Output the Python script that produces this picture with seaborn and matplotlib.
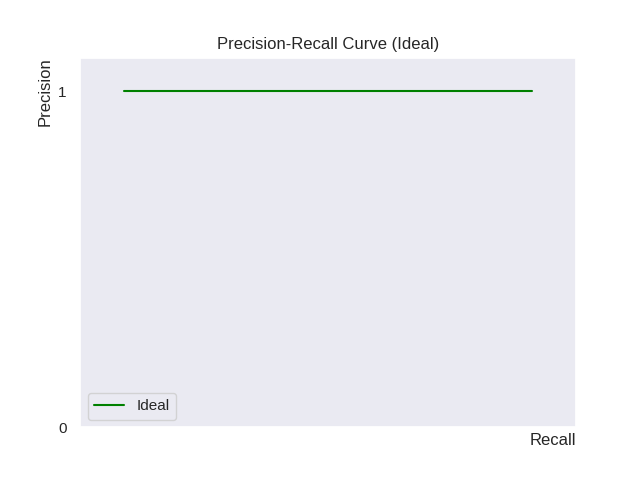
import matplotlib
matplotlib.use("Agg")
import matplotlib.pyplot as plt
import seaborn as sns
import pandas as pd

recall = [0.0, 1.0]
precision = [1.0, 1.0]
series_label = "Ideal"
y_ticks = [0, 1]

sns.set_theme(style="darkgrid")
plt.rcParams["font.family"] = ["Liberation Sans", "DejaVu Sans"]
df = pd.DataFrame({"Recall": recall, "Precision": precision})

fig, ax = plt.subplots(figsize=(6.4, 4.8), dpi=100)
sns.lineplot(data=df, x="Recall", y="Precision", color="green", label=series_label, ax=ax)
ax.set_xlim(-0.108, 1.108)
ax.set_ylim(0, 1.1)
ax.set_xticks([])
ax.set_yticks(y_ticks)
ax.set_yticklabels([str(t) for t in y_ticks])
ax.grid(False)
ax.set_xlabel("Recall", loc="right")
ax.set_ylabel("Precision", loc="top")
ax.set_title("Precision-Recall Curve (Ideal)")
ax.legend(loc="lower left")
fig.savefig("out.png", dpi=100)
